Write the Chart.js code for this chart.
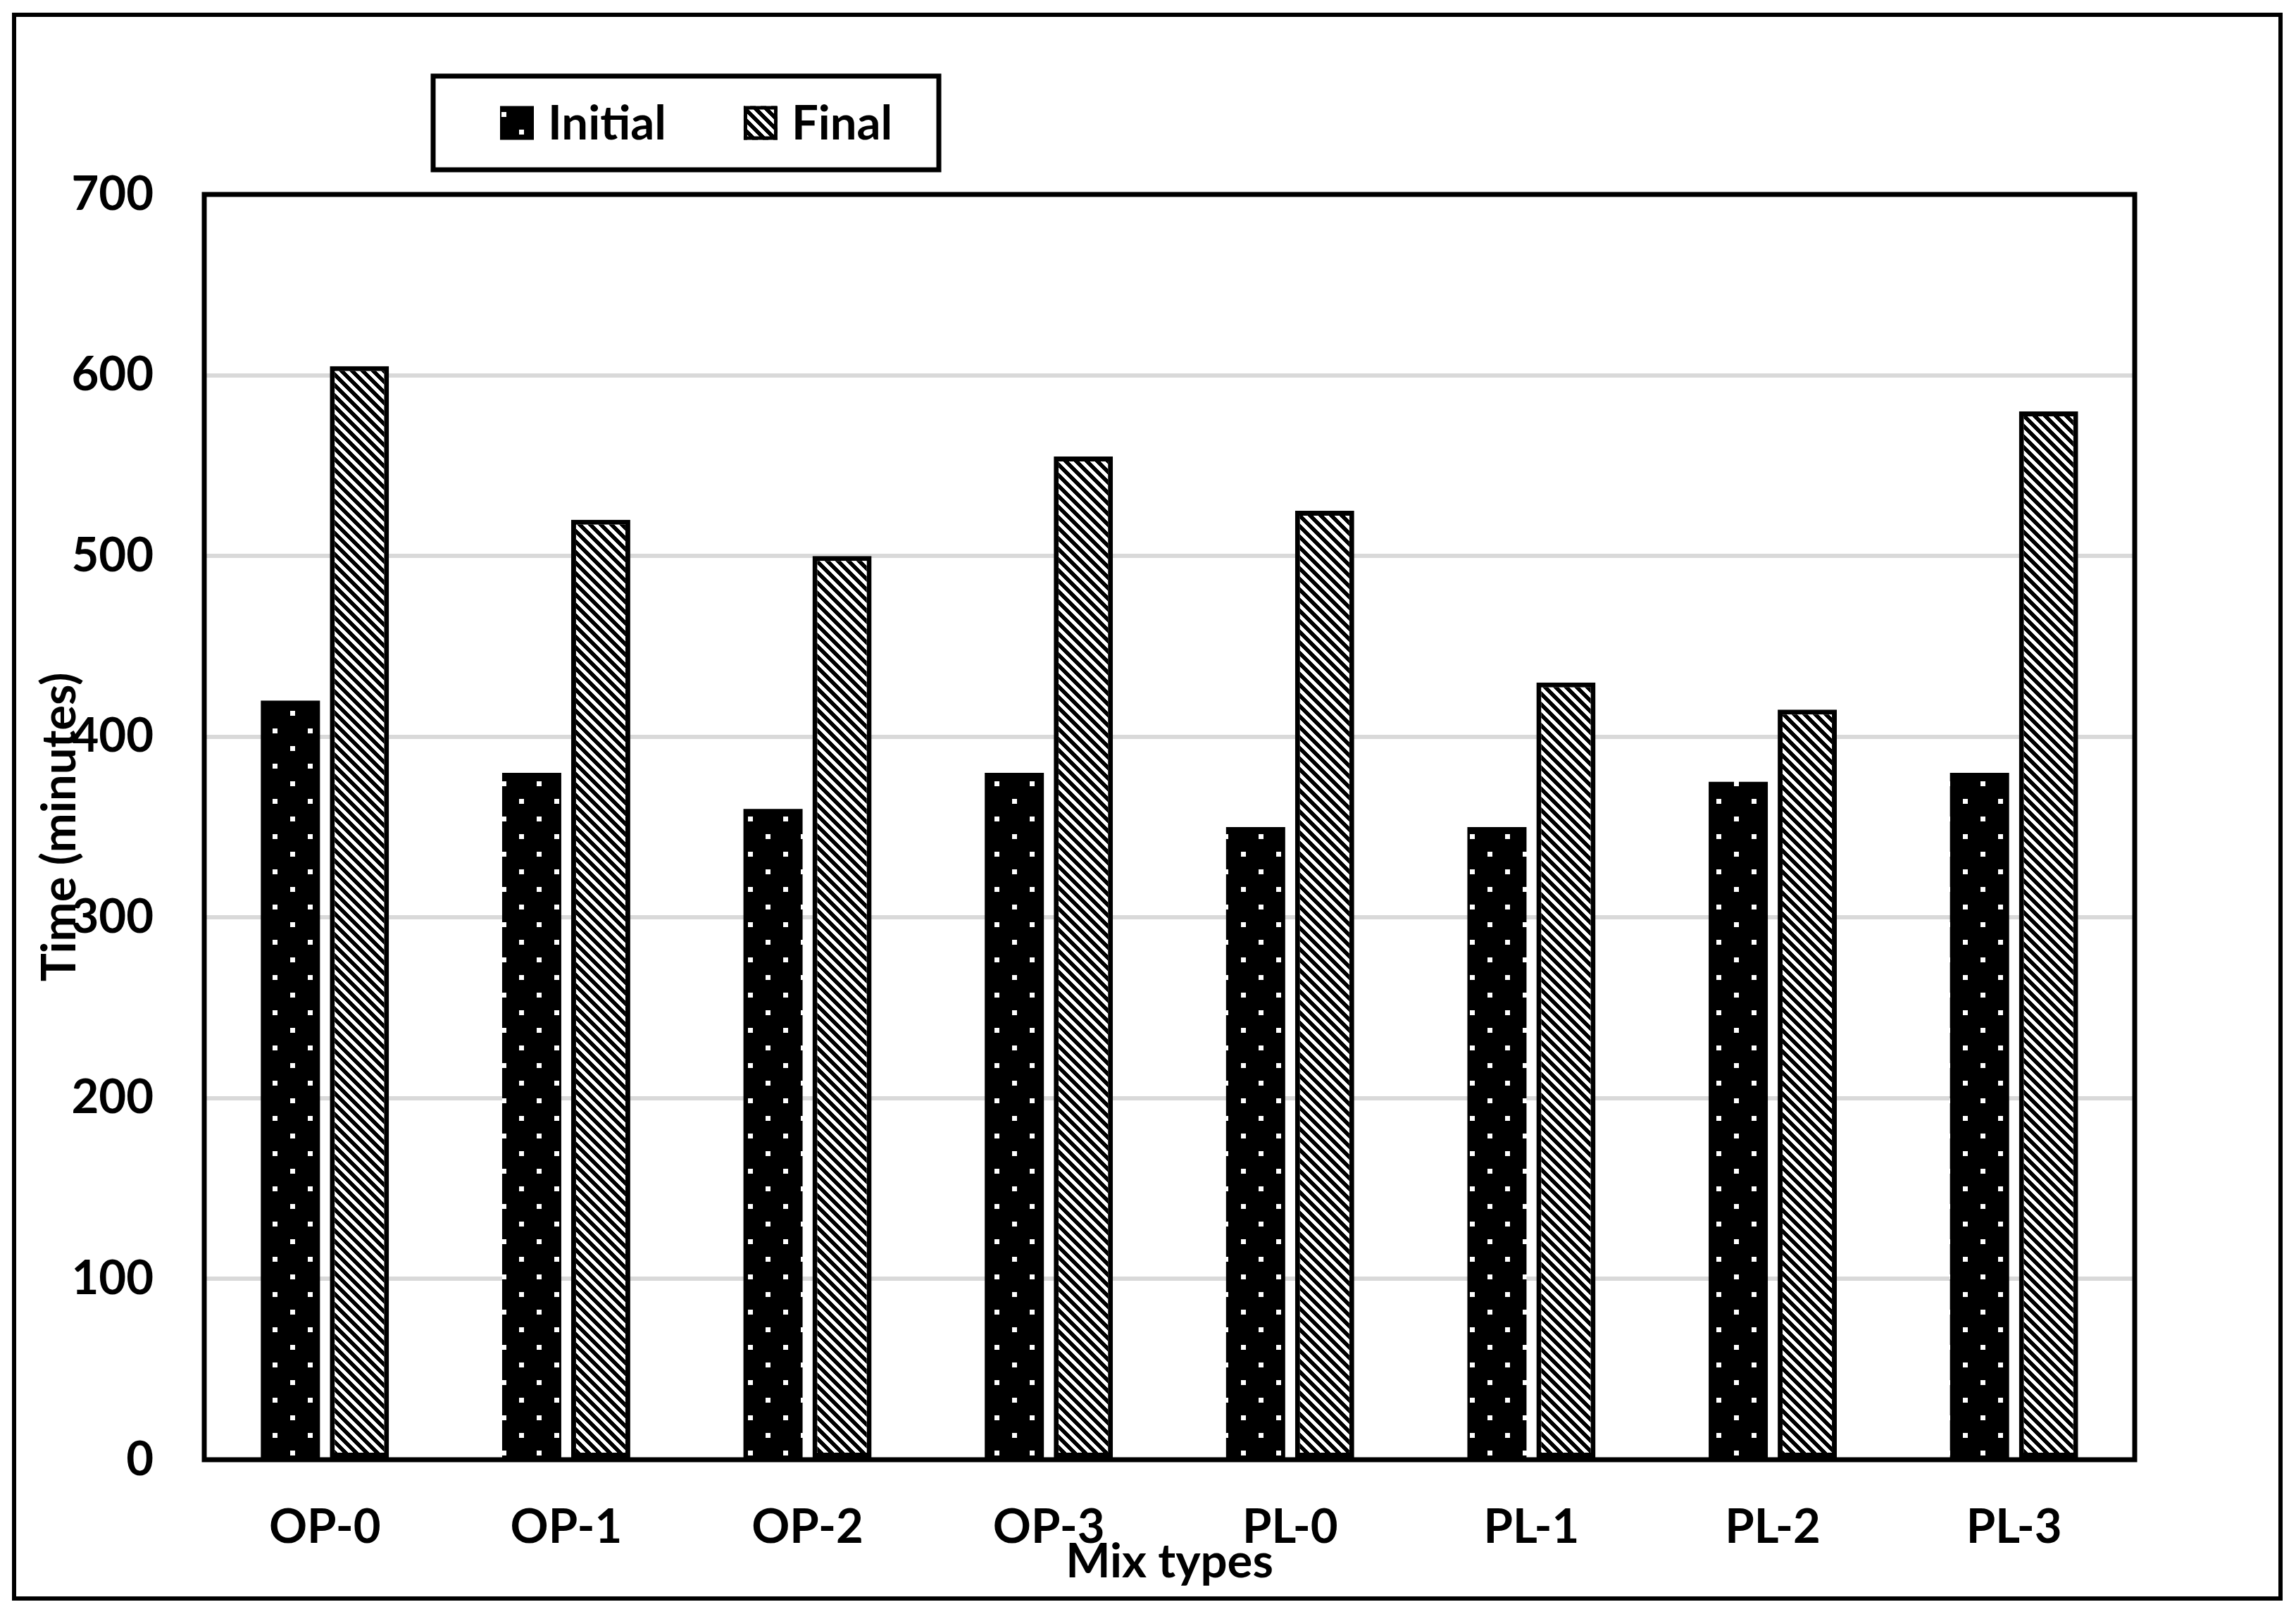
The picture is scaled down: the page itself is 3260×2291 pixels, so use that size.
<!DOCTYPE html>
<html>
<head>
<meta charset="utf-8">
<script src="https://cdn.jsdelivr.net/npm/chart.js@4.4.1/dist/chart.umd.min.js"></script>
<style>
  html, body { margin: 0; padding: 0; background: #fff; }
</style>
</head>
<body>
<canvas id="timeChart" width="3260" height="2291"></canvas>
<script>
  const mixTypes = ['OP-0', 'OP-1', 'OP-2', 'OP-3', 'PL-0', 'PL-1', 'PL-2', 'PL-3'];
  const initialTime = [420, 380, 360, 380, 350, 350, 375, 380];
  const finalTime = [605, 520, 500, 555, 525, 430, 415, 580];
  const yTicks = [0, 100, 200, 300, 400, 500, 600, 700];

  const canvas = document.getElementById('timeChart');
  const ctx = canvas.getContext('2d');
  const FONT = 'Lato, "Open Sans", sans-serif';

  // black fill with white dots (Excel "dotted" look)
  function dotPattern() {
    const c = document.createElement('canvas');
    c.width = 50; c.height = 50;
    const g = c.getContext('2d');
    g.fillStyle = '#000';
    g.fillRect(0, 0, 50, 50);
    g.fillStyle = '#fff';
    g.fillRect(12, 9, 7, 7);
    g.fillRect(37, 34, 7, 7);
    return ctx.createPattern(c, 'repeat');
  }

  // wide downward diagonal stripes
  function stripePattern() {
    const s = 15;
    const c = document.createElement('canvas');
    c.width = s; c.height = s;
    const g = c.getContext('2d');
    g.fillStyle = '#fff';
    g.fillRect(0, 0, s, s);
    g.fillStyle = '#000';
    for (let y = 0; y < s; y++) {
      for (let x = 0; x < s; x++) {
        if (((x - y) % s + s) % s < 8) g.fillRect(x, y, 1, 1);
      }
    }
    return ctx.createPattern(c, 'repeat');
  }

  const frameBox = {
    id: 'frameBox',
    beforeDraw(chart) {
      const c = chart.ctx;
      c.save();
      c.fillStyle = '#fff';
      c.fillRect(0, 0, chart.width, chart.height);
      c.strokeStyle = '#000';
      c.lineWidth = 6;
      c.strokeRect(20, 21, 3218, 2248);
      c.restore();
    },
    afterDraw(chart) {
      const c = chart.ctx;
      const a = chart.chartArea;
      c.save();
      c.strokeStyle = '#000';
      c.lineWidth = 7;
      c.strokeRect(a.left, a.top, a.right - a.left, a.bottom - a.top);

      // boxed legend
      const ds = chart.data.datasets;
      c.font = 'bold 67px ' + FONT;
      c.textBaseline = 'middle';
      c.textAlign = 'left';
      const boxX = 615, boxY = 108, boxW = 718, boxH = 133;
      c.lineWidth = 7;
      c.strokeRect(boxX, boxY, boxW, boxH);
      let x = 710;
      const midY = boxY + boxH / 2;
      ds.forEach((d, i) => {
        c.fillStyle = d.backgroundColor;
        c.fillRect(x, midY - 24, 48, 48);
        if (d.borderWidth) {
          c.lineWidth = 5;
          c.strokeStyle = '#000';
          c.strokeRect(x + 2.5, midY - 21.5, 43, 43);
        }
        c.fillStyle = '#000';
        c.fillText(d.label, x + 68, midY + 2);
        x += 68 + c.measureText(d.label).width + 110;
      });
      c.restore();
    }
  };

  const timeChart = new Chart(ctx, {
    type: 'bar',
    data: {
      labels: mixTypes,
      datasets: [
        {
          label: 'Initial',
          data: initialTime,
          backgroundColor: dotPattern(),
          borderWidth: 0,
          categoryPercentage: 0.572,
          barPercentage: 0.857
        },
        {
          label: 'Final',
          data: finalTime,
          backgroundColor: stripePattern(),
          borderColor: '#000',
          borderWidth: 7,
          borderSkipped: false,
          categoryPercentage: 0.572,
          barPercentage: 0.857
        }
      ]
    },
    options: {
      responsive: false,
      animation: false,
      devicePixelRatio: 1,
      layout: { padding: { left: 0, top: 276, right: 229, bottom: 0 } },
      plugins: {
        legend: { display: false },
        tooltip: { enabled: false }
      },
      scales: {
        x: {
          grid: { display: false, drawTicks: false },
          border: { display: false },
          ticks: {
            color: '#000',
            padding: 56,
            font: { family: FONT, size: 67, weight: 'bold', lineHeight: 1.2 }
          },
          title: {
            display: true,
            text: 'Mix types',
            color: '#000',
            padding: { top: 0, bottom: 33 },
            font: { family: FONT, size: 67, weight: 'bold', lineHeight: 1.2 }
          },
          afterFit: s => { s.height = 219; }
        },
        y: {
          min: yTicks[0],
          max: yTicks[yTicks.length - 1],
          ticks: {
            stepSize: yTicks[1] - yTicks[0],
            color: '#000',
            padding: 72,
            font: { family: FONT, size: 67, weight: 'bold', lineHeight: 1.2 }
          },
          grid: { color: '#d9d9d9', lineWidth: 6, drawTicks: false },
          border: { display: false },
          title: {
            display: true,
            text: 'Time (minutes)',
            color: '#000',
            padding: { top: 45, bottom: 0 },
            font: { family: FONT, size: 67, weight: 'bold', lineHeight: 1.2 }
          },
          afterFit: s => { s.width = 290; }
        }
      }
    },
    plugins: [frameBox]
  });
</script>
</body>
</html>
